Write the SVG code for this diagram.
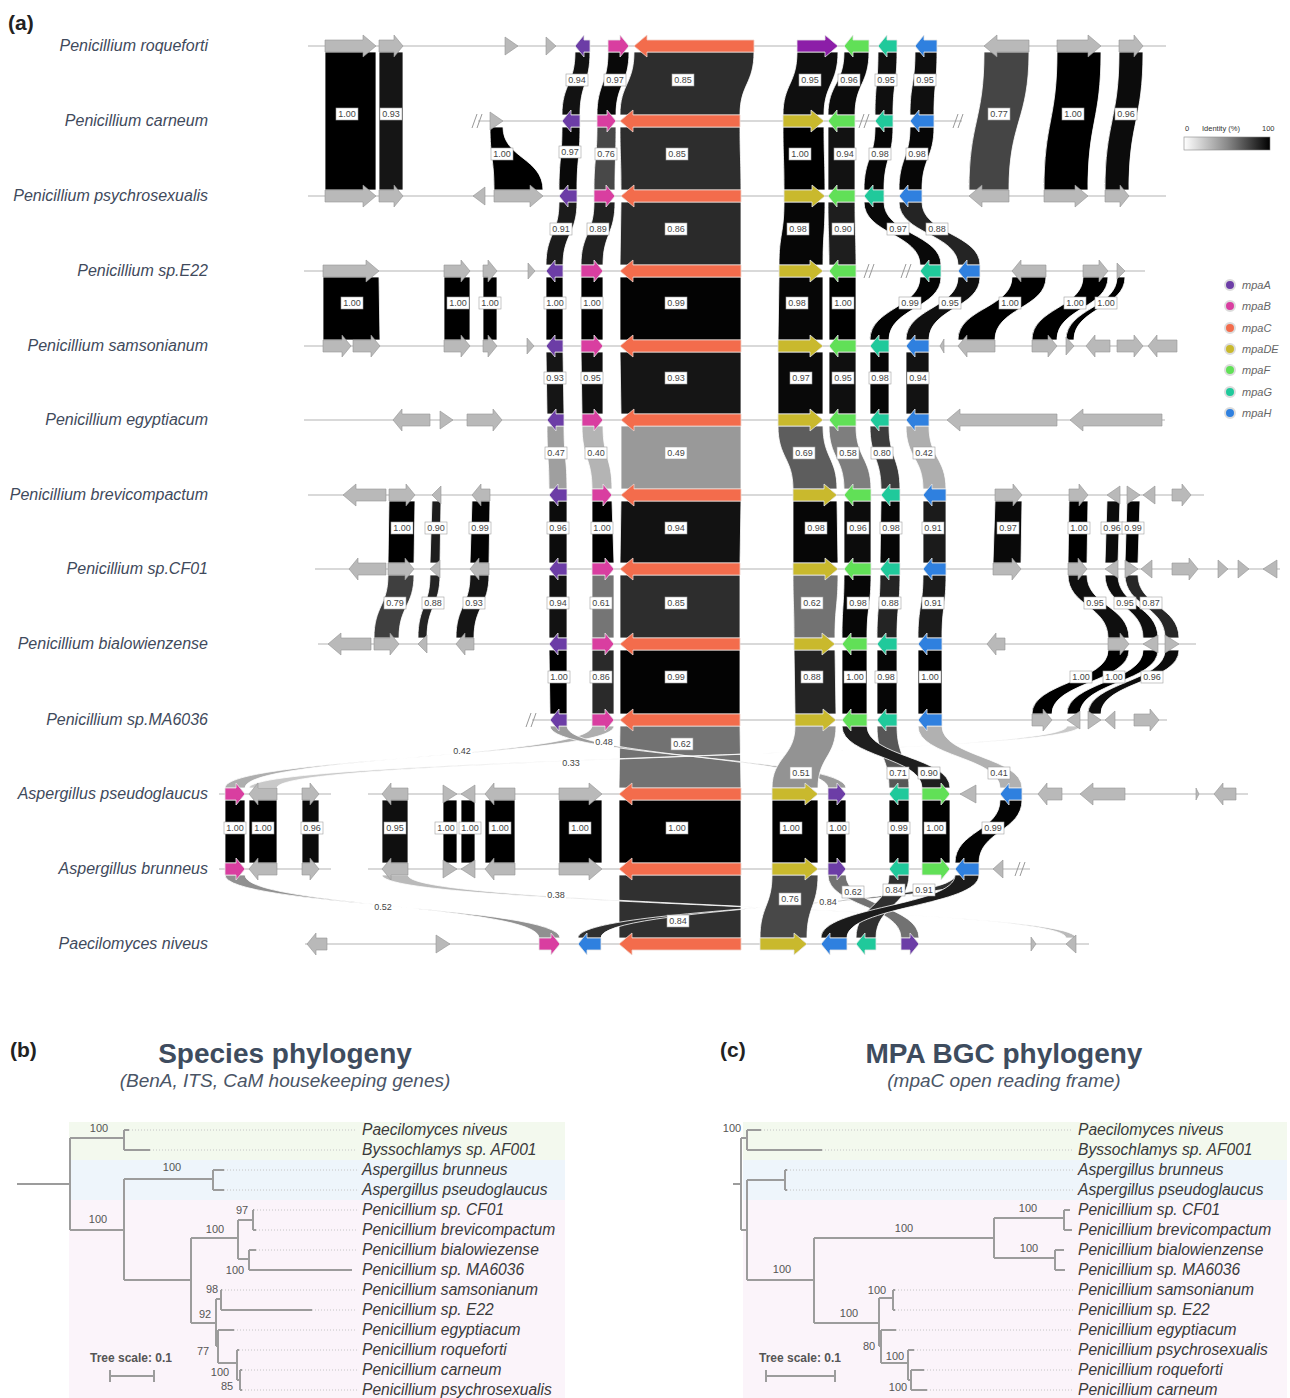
<svg xmlns="http://www.w3.org/2000/svg" width="1290" height="1398" viewBox="0 0 1290 1398">
<style>
text{font-family:"Liberation Sans",Arial,sans-serif}
.trk{stroke:#b3b3b3;stroke-width:1.2;fill:none}
.g{fill:#b9b9b9;stroke:#949494;stroke-width:.6}
.A{fill:#6c3da6;stroke:#e6e6e6;stroke-width:.8}
.B{fill:#d93ea0;stroke:#e6e6e6;stroke-width:.8}
.C{fill:#f36c4c;stroke:#f0d0c8;stroke-width:.8}
.DE{fill:#c9b92d;stroke:#e6e6e6;stroke-width:.8}
.F{fill:#61e057;stroke:#e6e6e6;stroke-width:.8}
.G{fill:#20c99b;stroke:#e6e6e6;stroke-width:.8}
.H{fill:#2f80df;stroke:#e6e6e6;stroke-width:.8}
.X{fill:#8c1ea8;stroke:#e6e6e6;stroke-width:.8}
.rib path{stroke:#ffffff;stroke-width:.8}
.k100{fill:#000}.k99{fill:#030303}.k98{fill:#060606}.k97{fill:#090909}.k96{fill:#0c0c0c}.k95{fill:#0f0f0f}.k94{fill:#121212}.k93{fill:#151515}.k91{fill:#1b1b1b}.k90{fill:#1e1e1e}.k89{fill:#212121}.k88{fill:#242424}.k87{fill:#272727}.k86{fill:#2a2a2a}.k85{fill:#2d2d2d}.k84{fill:#303030}.k80{fill:#3c3c3c}.k79{fill:#3f3f3f}.k77{fill:#454545}.k76{fill:#484848}.k71{fill:#575757}.k69{fill:#5d5d5d}.k62{fill:#727272}.k61{fill:#757575}.k58{fill:#7e7e7e}.k52{fill:#909090}.k51{fill:#939393}.k49{fill:#999999}.k48{fill:#9c9c9c}.k47{fill:#9f9f9f}.k42{fill:#aeaeae}.k41{fill:#b1b1b1}.k40{fill:#b4b4b4}.k38{fill:#bababa}.k33{fill:#c9c9c9}
.lb rect{fill:#fff;stroke:#a0a0a0;stroke-width:.6}
.lb2 rect{fill:#fff;stroke:none}
.lb text,.lb2 text{font-size:9px;fill:#444;text-anchor:middle}
.sp{font-size:16px;font-style:italic;fill:#3f4a5c;text-anchor:end}
.sls{stroke:#999;stroke-width:1;fill:none}
.leg text{font-size:11px;font-style:italic;fill:#666}
.leg circle{stroke:#dcdcdc;stroke-width:2}
.pl{font-size:21px;font-weight:bold;fill:#222}
.ttl{font-size:28px;font-weight:bold;fill:#3e4c5e;text-anchor:middle}
.sub{font-size:19px;font-style:italic;fill:#4a5566;text-anchor:middle}
.tr{stroke:#9c9c9c;stroke-width:2;fill:none}
.dot{stroke:#c4c4c4;stroke-width:1;stroke-dasharray:1 2}
.leaf{font-size:15.6px;font-style:italic;fill:#3a3a3a}
.bs{font-size:11px;fill:#555;text-anchor:middle}
.tsc{font-size:12px;font-weight:bold;fill:#555;text-anchor:middle}
</style>
<defs>
<linearGradient id="idg" x1="0" y1="0" x2="1" y2="0"><stop offset="0" stop-color="#ffffff"/><stop offset="0.5" stop-color="#8a8a8a"/><stop offset="1" stop-color="#000000"/></linearGradient>
<path id="sl" d="M-6,7L-1,-7M-1,7L4,-7" class="sls"/>
</defs>
<rect width="1290" height="1398" fill="#ffffff"/>
<text class="pl" x="8" y="30">(a)</text>

<g id="tracks">
<path class="trk" d="M308,46H1166M478,121H962M308,196H1166M304,271H1145M304,346H1177M304,420H1165M308,495H1204M315,569H1280M318,644H1196M532,720H1167M219,794H331M368,794H1248M219,869H331M368,869H1030M305,944H1089"/>
</g>

<g id="connectors" class="rib">
<path class="k100" d="M325,52H376V190H325Z"/>
<path class="k93" d="M379,52H403V190H379Z"/>
<path class="k77" d="M984,52H1029C1029,121 1009,121 1009,190H969C969,121 984,121 984,52Z"/>
<path class="k100" d="M1057,52H1101C1101,121 1088,121 1088,190H1044C1044,121 1057,121 1057,52Z"/>
<path class="k96" d="M1119,52H1143C1143,121 1129,121 1129,190H1105C1105,121 1119,121 1119,52Z"/>
<path class="k94" d="M575,52H590C590,84 580,84 580,115H562C562,84 575,84 575,52Z"/>
<path class="k97" d="M608,52H629C629,84 616,84 616,115H597C597,84 608,84 608,52Z"/>
<path class="k85" d="M634,52H754C754,84 740,84 740,115H620C620,84 634,84 634,52Z"/>
<path class="k95" d="M797,52H838C838,84 824,84 824,115H783C783,84 797,84 797,52Z"/>
<path class="k96" d="M844,52H869C869,84 855,84 855,115H828C828,84 844,84 844,52Z"/>
<path class="k95" d="M878,52H897C897,84 893,84 893,115H875C875,84 878,84 878,52Z"/>
<path class="k95" d="M915,52H937C937,84 934,84 934,115H910C910,84 915,84 915,52Z"/>
<path class="k100" d="M490,127H503C503,158 543,158 543,190H494C494,158 490,158 490,127Z"/>
<path class="k97" d="M562,127H580C580,158 577,158 577,190H559C559,158 562,158 562,127Z"/>
<path class="k76" d="M597,127H616C616,158 615,158 615,190H594C594,158 597,158 597,127Z"/>
<path class="k85" d="M620,127H740C740,158 741,158 741,190H621C621,158 620,158 620,127Z"/>
<path class="k100" d="M783,127H824C824,158 825,158 825,190H784C784,158 783,158 783,127Z"/>
<path class="k94" d="M828,127H855V190H828Z"/>
<path class="k98" d="M875,127H893C893,158 884,158 884,190H864C864,158 875,158 875,127Z"/>
<path class="k98" d="M910,127H934C934,158 922,158 922,190H899C899,158 910,158 910,127Z"/>
<path class="k91" d="M559,202H577C577,234 563,234 563,265H546C546,234 559,234 559,202Z"/>
<path class="k89" d="M594,202H615C615,234 603,234 603,265H581C581,234 594,234 594,202Z"/>
<path class="k86" d="M621,202H741V265H620Z"/>
<path class="k98" d="M784,202H825C825,234 823,234 823,265H779C779,234 784,234 784,202Z"/>
<path class="k90" d="M828,202H855C855,234 856,234 856,265H829C829,234 828,234 828,202Z"/>
<path class="k97" d="M864,202H884C884,234 941,234 941,265H920C920,234 864,234 864,202Z"/>
<path class="k88" d="M899,202H922C922,234 980,234 980,265H958C958,234 899,234 899,202Z"/>
<path class="k100" d="M323,277H379L380,340H323Z"/>
<path class="k100" d="M444,277H470V340H444Z"/>
<path class="k100" d="M483,277H497V340H483Z"/>
<path class="k100" d="M546,277H563V340H546Z"/>
<path class="k100" d="M581,277H603V340H581Z"/>
<path class="k99" d="M620,277H741V340H620Z"/>
<path class="k98" d="M779,277H823V340H778Z"/>
<path class="k100" d="M829,277H856V340H829Z"/>
<path class="k99" d="M920,277H941C941,308 889,308 889,340H870C870,308 920,308 920,277Z"/>
<path class="k95" d="M958,277H980C980,308 929,308 929,340H906C906,308 958,308 958,277Z"/>
<path class="k100" d="M1012,277H1046C1046,308 995,308 995,340H958C958,308 1012,308 1012,277Z"/>
<path class="k100" d="M1083,277H1108C1108,308 1057,308 1057,340H1032C1032,308 1083,308 1083,277Z"/>
<path class="k100" d="M1117,277H1125C1125,308 1074,308 1074,340H1066C1066,308 1117,308 1117,277Z"/>
<path class="k93" d="M546,352H563L564,414H547Z"/>
<path class="k95" d="M581,352H603V414H582Z"/>
<path class="k93" d="M620,352H741V414H621Z"/>
<path class="k97" d="M778,352H823V414H778Z"/>
<path class="k95" d="M829,352H856V414H829Z"/>
<path class="k98" d="M870,352H889V414H870Z"/>
<path class="k94" d="M906,352H929V414H906Z"/>
<path class="k47" d="M547,426H564C564,458 567,458 567,489H549C549,458 547,458 547,426Z"/>
<path class="k40" d="M582,426H603C603,458 612,458 612,489H592C592,458 582,458 582,426Z"/>
<path class="k49" d="M621,426H741V489H621Z"/>
<path class="k69" d="M778,426H823C823,458 837,458 837,489H793C793,458 778,458 778,426Z"/>
<path class="k58" d="M829,426H856C856,458 871,458 871,489H844C844,458 829,458 829,426Z"/>
<path class="k80" d="M870,426H889C889,458 900,458 900,489H881C881,458 870,458 870,426Z"/>
<path class="k42" d="M906,426H929C929,458 946,458 946,489H923C923,458 906,458 906,426Z"/>
<path class="k100" d="M389,501H415L414,563H388Z"/>
<path class="k90" d="M432,501H441L440,563H430Z"/>
<path class="k99" d="M472,501H490L489,563H470Z"/>
<path class="k96" d="M549,501H567V563H549Z"/>
<path class="k100" d="M592,501H612L614,563H592Z"/>
<path class="k94" d="M621,501H741L740,563H620Z"/>
<path class="k98" d="M793,501H837L838,563H793Z"/>
<path class="k96" d="M844,501H871V563H844Z"/>
<path class="k98" d="M881,501H900V563H880Z"/>
<path class="k91" d="M923,501H946V563H923Z"/>
<path class="k97" d="M995,501H1022L1021,563H993Z"/>
<path class="k100" d="M1069,501H1088L1087,563H1068Z"/>
<path class="k96" d="M1107,501H1120L1118,563H1105Z"/>
<path class="k99" d="M1127,501H1140L1138,563H1125Z"/>
<path class="k79" d="M388,575H414C414,606 399,606 399,638H374C374,606 388,606 388,575Z"/>
<path class="k88" d="M430,575H440C440,606 427,606 427,638H418C418,606 430,606 430,575Z"/>
<path class="k93" d="M470,575H489C489,606 474,606 474,638H456C456,606 470,606 470,575Z"/>
<path class="k94" d="M549,575H567V638H549Z"/>
<path class="k61" d="M592,575H614V638H592Z"/>
<path class="k85" d="M620,575H740V638H620Z"/>
<path class="k62" d="M793,575H838C838,606 835,606 835,638H794C794,606 793,606 793,575Z"/>
<path class="k98" d="M844,575H871C871,606 867,606 867,638H842C842,606 844,606 844,575Z"/>
<path class="k88" d="M880,575H900C900,606 897,606 897,638H877C877,606 880,606 880,575Z"/>
<path class="k91" d="M923,575H946C946,606 942,606 942,638H918C918,606 923,606 923,575Z"/>
<path class="k95" d="M1068,575H1087C1087,606 1129,606 1129,638H1108C1108,606 1068,606 1068,575Z"/>
<path class="k95" d="M1105,575H1118C1118,606 1158,606 1158,638H1143C1143,606 1105,606 1105,575Z"/>
<path class="k87" d="M1125,575H1138C1138,606 1179,606 1179,638H1165C1165,606 1125,606 1125,575Z"/>
<path class="k100" d="M549,650H567V714H550Z"/>
<path class="k86" d="M592,650H614V714H592Z"/>
<path class="k99" d="M620,650H740V714H620Z"/>
<path class="k88" d="M794,650H835L836,714H795Z"/>
<path class="k100" d="M842,650H867V714H842Z"/>
<path class="k98" d="M877,650H897V714H877Z"/>
<path class="k100" d="M918,650H942V714H918Z"/>
<path class="k100" d="M1108,650H1129C1129,682 1052,682 1052,714H1032C1032,682 1108,682 1108,650Z"/>
<path class="k100" d="M1143,650H1158C1158,682 1080,682 1080,714H1067C1067,682 1143,682 1143,650Z"/>
<path class="k96" d="M1165,650H1179C1179,682 1101,682 1101,714H1088C1088,682 1165,682 1165,650Z"/>
<path class="k62" d="M620,726H740L741,788H619Z"/>
<path class="k42" d="M592,726H614C614,757 225,757 225,788H245C245,757 592,757 592,726Z"/>
<path class="k33" d="M1067,726H1080C1080,757 249,757 249,788H277C277,757 1067,757 1067,726Z"/>
<path class="k48" d="M550,726H567C567,757 828,757 828,788H846C846,757 550,757 550,726Z"/>
<path class="k51" d="M795,726H836C836,757 818,757 818,788H772C772,757 795,757 795,726Z"/>
<path class="k41" d="M918,726H942C942,757 1022,757 1022,788H1000C1000,757 918,757 918,726Z"/>
<path class="k71" d="M877,726H897C897,757 909,757 909,788H889C889,757 877,757 877,726Z"/>
<path class="k90" d="M842,726H867C867,757 950,757 950,788H922C922,757 842,757 842,726Z"/>
<path class="k100" d="M225,800H245V863H225Z"/>
<path class="k100" d="M249,800H277V863H249Z"/>
<path class="k96" d="M302,800H319V863H302Z"/>
<path class="k95" d="M382,800H408V863H382Z"/>
<path class="k100" d="M443,800H457V863H443Z"/>
<path class="k100" d="M461,800H475V863H461Z"/>
<path class="k100" d="M485,800H515V863H485Z"/>
<path class="k100" d="M559,800H602V863H559Z"/>
<path class="k100" d="M619,800H741V863H619Z"/>
<path class="k100" d="M772,800H818V863H772Z"/>
<path class="k100" d="M828,800H846V863H828Z"/>
<path class="k99" d="M889,800H909V863H889Z"/>
<path class="k100" d="M922,800H950V863H922Z"/>
<path class="k99" d="M1000,800H1022C1022,831 979,831 979,863H955C955,831 1000,831 1000,800Z"/>
<path class="k84" d="M619,875H741V938H619Z"/>
<path class="k52" d="M225,875H245C245,906 539,906 539,938H560C560,906 225,906 225,875Z"/>
<path class="k38" d="M382,875H408C408,906 1066,906 1066,938H1076C1076,906 382,906 382,875Z"/>
<path class="k84" d="M955,875H979C979,906 578,906 578,938H601C601,906 955,906 955,875Z"/>
<path class="k76" d="M772,875H818C818,906 807,906 807,938H760C760,906 772,906 772,875Z"/>
<path class="k62" d="M828,875H846C846,906 919,906 919,938H901C901,906 828,906 828,875Z"/>
<path class="k84" d="M889,875H909C909,906 876,906 876,938H856C856,906 889,906 889,875Z"/>
<path class="k91" d="M955,875H979C979,906 847,906 847,938H821C821,906 955,906 955,875Z"/>
</g>

<g id="genome-roqueforti">
<text class="sp" x="208" y="51">Penicillium roqueforti</text>
<path class="g" d="M325,40h38v-5l13,11l-13,11v-5h-38z"/>
<path class="g" d="M379,40h15v-5l9,11l-9,11v-5h-15z"/>
<path class="g" d="M505,37l13,9l-13,9z"/>
<path class="g" d="M546,37l10,9l-10,9z"/>
<path class="A" d="M575,46l9,-11v5h6v12h-6v5z"/>
<path class="B" d="M608,40h12v-5l9,11l-9,11v-5h-12z"/>
<path class="C" d="M634,46l13,-11v5h107v12h-107v5z"/>
<path class="X" d="M797,40h28v-5l13,11l-13,11v-5h-28z"/>
<path class="F" d="M844,46l9,-11v5h16v12h-16v5z"/>
<path class="G" d="M878,46l9,-11v5h10v12h-10v5z"/>
<path class="H" d="M915,46l9,-11v5h13v12h-13v5z"/>
<path class="g" d="M984,46l13,-11v5h32v12h-32v5z"/>
<path class="g" d="M1057,40h31v-5l13,11l-13,11v-5h-31z"/>
<path class="g" d="M1119,40h15v-5l9,11l-9,11v-5h-15z"/>
</g>
<g id="genome-carneum">
<text class="sp" x="208" y="126">Penicillium carneum</text>
<use href="#sl" x="478" y="121"/><use href="#sl" x="865" y="121"/><use href="#sl" x="959" y="121"/>
<path class="g" d="M490,112l13,9l-13,9z"/>
<path class="A" d="M562,121l9,-11v5h9v12h-9v5z"/>
<path class="B" d="M597,115h10v-5l9,11l-9,11v-5h-10z"/>
<path class="C" d="M620,121l13,-11v5h107v12h-107v5z"/>
<path class="DE" d="M783,115h28v-5l13,11l-13,11v-5h-28z"/>
<path class="F" d="M828,121l9,-11v5h18v12h-18v5z"/>
<path class="G" d="M875,121l9,-11v5h9v12h-9v5z"/>
<path class="H" d="M910,121l9,-11v5h15v12h-15v5z"/>
</g>
<g id="genome-psychrosexualis">
<text class="sp" x="208" y="201">Penicillium psychrosexualis</text>
<path class="g" d="M325,190h38v-5l13,11l-13,11v-5h-38z"/>
<path class="g" d="M379,190h15v-5l9,11l-9,11v-5h-15z"/>
<path class="g" d="M485,187l-12,9l12,9z"/>
<path class="g" d="M494,190h36v-5l13,11l-13,11v-5h-36z"/>
<path class="A" d="M559,196l9,-11v5h9v12h-9v5z"/>
<path class="B" d="M594,190h12v-5l9,11l-9,11v-5h-12z"/>
<path class="C" d="M621,196l13,-11v5h107v12h-107v5z"/>
<path class="DE" d="M784,190h28v-5l13,11l-13,11v-5h-28z"/>
<path class="F" d="M828,196l9,-11v5h18v12h-18v5z"/>
<path class="G" d="M864,196l9,-11v5h11v12h-11v5z"/>
<path class="H" d="M899,196l9,-11v5h14v12h-14v5z"/>
<path class="g" d="M969,196l13,-11v5h27v12h-27v5z"/>
<path class="g" d="M1044,190h31v-5l13,11l-13,11v-5h-31z"/>
<path class="g" d="M1105,190h15v-5l9,11l-9,11v-5h-15z"/>
</g>
<g id="genome-E22">
<text class="sp" x="208" y="276">Penicillium sp.E22</text>
<path class="g" d="M323,265h43v-5l13,11l-13,11v-5h-43z"/>
<path class="g" d="M444,265h17v-5l9,11l-9,11v-5h-17z"/>
<path class="g" d="M483,265h5v-5l9,11l-9,11v-5h-5z"/>
<path class="g" d="M528,263l7,8l-7,8z"/>
<path class="A" d="M546,271l9,-11v5h8v12h-8v5z"/>
<path class="B" d="M581,265h13v-5l9,11l-9,11v-5h-13z"/>
<path class="C" d="M620,271l13,-11v5h108v12h-108v5z"/>
<path class="DE" d="M779,265h31v-5l13,11l-13,11v-5h-31z"/>
<path class="F" d="M829,271l9,-11v5h18v12h-18v5z"/>
<use href="#sl" x="870" y="271"/><use href="#sl" x="907" y="271"/>
<path class="G" d="M920,271l9,-11v5h12v12h-12v5z"/>
<path class="H" d="M958,271l9,-11v5h13v12h-13v5z"/>
<path class="g" d="M1012,271l9,-11v5h25v12h-25v5z"/>
<path class="g" d="M1083,265h16v-5l9,11l-9,11v-5h-16z"/>
<path class="g" d="M1117,263l8,8l-8,8z"/>
</g>
<g id="genome-samsonianum">
<text class="sp" x="208" y="351">Penicillium samsonianum</text>
<path class="g" d="M323,340h19v-5l9,11l-9,11v-5h-19z"/>
<path class="g" d="M353,340h18v-5l9,11l-9,11v-5h-18z"/>
<path class="g" d="M444,340h17v-5l9,11l-9,11v-5h-17z"/>
<path class="g" d="M483,340h5v-5l9,11l-9,11v-5h-5z"/>
<path class="g" d="M527,338l7,8l-7,8z"/>
<path class="A" d="M546,346l9,-11v5h8v12h-8v5z"/>
<path class="B" d="M581,340h13v-5l9,11l-9,11v-5h-13z"/>
<path class="C" d="M620,346l13,-11v5h108v12h-108v5z"/>
<path class="DE" d="M778,340h32v-5l13,11l-13,11v-5h-32z"/>
<path class="F" d="M829,346l9,-11v5h18v12h-18v5z"/>
<path class="G" d="M870,346l9,-11v5h10v12h-10v5z"/>
<path class="H" d="M906,346l9,-11v5h14v12h-14v5z"/>
<path class="g" d="M944,339l-4,7l4,7z"/>
<path class="g" d="M958,346l9,-11v5h28v12h-28v5z"/>
<path class="g" d="M1032,340h16v-5l9,11l-9,11v-5h-16z"/>
<path class="g" d="M1066,337l8,9l-8,9z"/>
<path class="g" d="M1086,346l9,-11v5h15v12h-15v5z"/>
<path class="g" d="M1117,340h17v-5l9,11l-9,11v-5h-17z"/>
<path class="g" d="M1148,346l9,-11v5h20v12h-20v5z"/>
</g>
<g id="genome-egyptiacum">
<text class="sp" x="208" y="425">Penicillium egyptiacum</text>
<path class="g" d="M393,420l9,-11v5h28v12h-28v5z"/>
<path class="g" d="M440,411l13,9l-13,9z"/>
<path class="g" d="M467,414h26v-5l9,11l-9,11v-5h-26z"/>
<path class="A" d="M547,420l9,-11v5h8v12h-8v5z"/>
<path class="B" d="M582,414h12v-5l9,11l-9,11v-5h-12z"/>
<path class="C" d="M621,420l13,-11v5h107v12h-107v5z"/>
<path class="DE" d="M778,414h32v-5l13,11l-13,11v-5h-32z"/>
<path class="F" d="M829,420l9,-11v5h18v12h-18v5z"/>
<path class="G" d="M870,420l9,-11v5h10v12h-10v5z"/>
<path class="H" d="M906,420l9,-11v5h14v12h-14v5z"/>
<path class="g" d="M947,420l13,-11v5h97v12h-97v5z"/>
<path class="g" d="M1070,420l13,-11v5h79v12h-79v5z"/>
</g>
<g id="genome-brevicompactum">
<text class="sp" x="208" y="500">Penicillium brevicompactum</text>
<path class="g" d="M343,495l13,-11v5h30v12h-30v5z"/>
<path class="g" d="M389,489h17v-5l9,11l-9,11v-5h-17z"/>
<path class="g" d="M441,486l-9,9l9,9z"/>
<path class="g" d="M472,495l9,-11v5h9v12h-9v5z"/>
<path class="A" d="M549,495l9,-11v5h9v12h-9v5z"/>
<path class="B" d="M592,489h11v-5l9,11l-9,11v-5h-11z"/>
<path class="C" d="M621,495l13,-11v5h107v12h-107v5z"/>
<path class="DE" d="M793,489h31v-5l13,11l-13,11v-5h-31z"/>
<path class="F" d="M844,495l9,-11v5h18v12h-18v5z"/>
<path class="G" d="M881,495l9,-11v5h10v12h-10v5z"/>
<path class="H" d="M923,495l9,-11v5h14v12h-14v5z"/>
<path class="g" d="M995,489h18v-5l9,11l-9,11v-5h-18z"/>
<path class="g" d="M1069,489h10v-5l9,11l-9,11v-5h-10z"/>
<path class="g" d="M1120,486l-13,9l13,9z"/>
<path class="g" d="M1127,486l13,9l-13,9z"/>
<path class="g" d="M1155,486l-12,9l12,9z"/>
<path class="g" d="M1172,489h10v-5l9,11l-9,11v-5h-10z"/>
</g>
<g id="genome-CF01">
<text class="sp" x="208" y="574">Penicillium sp.CF01</text>
<path class="g" d="M349,569l9,-11v5h28v12h-28v5z"/>
<path class="g" d="M388,563h17v-5l9,11l-9,11v-5h-17z"/>
<path class="g" d="M440,560l-10,9l10,9z"/>
<path class="g" d="M470,569l9,-11v5h10v12h-10v5z"/>
<path class="A" d="M549,569l9,-11v5h9v12h-9v5z"/>
<path class="B" d="M592,563h13v-5l9,11l-9,11v-5h-13z"/>
<path class="C" d="M620,569l13,-11v5h107v12h-107v5z"/>
<path class="DE" d="M793,563h32v-5l13,11l-13,11v-5h-32z"/>
<path class="F" d="M844,569l9,-11v5h18v12h-18v5z"/>
<path class="G" d="M880,569l9,-11v5h11v12h-11v5z"/>
<path class="H" d="M923,569l9,-11v5h14v12h-14v5z"/>
<path class="g" d="M993,563h19v-5l9,11l-9,11v-5h-19z"/>
<path class="g" d="M1068,563h10v-5l9,11l-9,11v-5h-10z"/>
<path class="g" d="M1118,560l-13,9l13,9z"/>
<path class="g" d="M1125,560l13,9l-13,9z"/>
<path class="g" d="M1152,560l-11,9l11,9z"/>
<path class="g" d="M1172,563h17v-5l9,11l-9,11v-5h-17z"/>
<path class="g" d="M1218,560l10,9l-10,9z"/>
<path class="g" d="M1238,560l11,9l-11,9z"/>
<path class="g" d="M1277,560l-14,9l14,9z"/>
</g>
<g id="genome-bialowienzense">
<text class="sp" x="208" y="649">Penicillium bialowienzense</text>
<path class="g" d="M328,644l13,-11v5h30v12h-30v5z"/>
<path class="g" d="M374,638h16v-5l9,11l-9,11v-5h-16z"/>
<path class="g" d="M427,635l-9,9l9,9z"/>
<path class="g" d="M456,644l9,-11v5h9v12h-9v5z"/>
<path class="A" d="M549,644l9,-11v5h9v12h-9v5z"/>
<path class="B" d="M592,638h13v-5l9,11l-9,11v-5h-13z"/>
<path class="C" d="M620,644l13,-11v5h107v12h-107v5z"/>
<path class="DE" d="M794,638h28v-5l13,11l-13,11v-5h-28z"/>
<path class="F" d="M842,644l9,-11v5h16v12h-16v5z"/>
<path class="G" d="M877,644l9,-11v5h11v12h-11v5z"/>
<path class="H" d="M918,644l9,-11v5h15v12h-15v5z"/>
<path class="g" d="M987,644l9,-11v5h9v12h-9v5z"/>
<path class="g" d="M1108,638h12v-5l9,11l-9,11v-5h-12z"/>
<path class="g" d="M1158,635l-15,9l15,9z"/>
<path class="g" d="M1165,635l14,9l-14,9z"/>
</g>
<g id="genome-MA6036">
<text class="sp" x="208" y="725">Penicillium sp.MA6036</text>
<use href="#sl" x="532" y="720"/>
<path class="A" d="M550,720l9,-11v5h8v12h-8v5z"/>
<path class="B" d="M592,714h13v-5l9,11l-9,11v-5h-13z"/>
<path class="C" d="M620,720l13,-11v5h107v12h-107v5z"/>
<path class="DE" d="M795,714h28v-5l13,11l-13,11v-5h-28z"/>
<path class="F" d="M842,720l9,-11v5h16v12h-16v5z"/>
<path class="G" d="M877,720l9,-11v5h11v12h-11v5z"/>
<path class="H" d="M918,720l9,-11v5h15v12h-15v5z"/>
<path class="g" d="M1032,714h11v-5l9,11l-9,11v-5h-11z"/>
<path class="g" d="M1080,711l-13,9l13,9z"/>
<path class="g" d="M1088,711l13,9l-13,9z"/>
<path class="g" d="M1115,711l-10,9l10,9z"/>
<path class="g" d="M1134,714h16v-5l9,11l-9,11v-5h-16z"/>
</g>
<g id="genome-pseudoglaucus">
<text class="sp" x="208" y="799">Aspergillus pseudoglaucus</text>
<path class="B" d="M225,788h11v-5l9,11l-9,11v-5h-11z"/>
<path class="g" d="M249,794l9,-11v5h19v12h-19v5z"/>
<path class="g" d="M302,788h8v-5l9,11l-9,11v-5h-8z"/>
<path class="g" d="M382,794l9,-11v5h17v12h-17v5z"/>
<path class="g" d="M443,785l14,9l-14,9z"/>
<path class="g" d="M475,785l-14,9l14,9z"/>
<path class="g" d="M485,794l9,-11v5h21v12h-21v5z"/>
<path class="g" d="M559,788h30v-5l13,11l-13,11v-5h-30z"/>
<path class="C" d="M619,794l13,-11v5h109v12h-109v5z"/>
<path class="DE" d="M772,788h33v-5l13,11l-13,11v-5h-33z"/>
<path class="A" d="M828,788h9v-5l9,11l-9,11v-5h-9z"/>
<path class="G" d="M889,794l9,-11v5h11v12h-11v5z"/>
<path class="F" d="M922,788h19v-5l9,11l-9,11v-5h-19z"/>
<path class="g" d="M976,785l-16,9l16,9z"/>
<path class="H" d="M1000,794l9,-11v5h13v12h-13v5z"/>
<path class="g" d="M1038,794l9,-11v5h15v12h-15v5z"/>
<path class="g" d="M1080,794l13,-11v5h32v12h-32v5z"/>
<path class="g" d="M1196,788l3,6l-3,6z"/>
<path class="g" d="M1214,794l9,-11v5h13v12h-13v5z"/>
</g>
<g id="genome-brunneus">
<text class="sp" x="208" y="874">Aspergillus brunneus</text>
<path class="B" d="M225,863h11v-5l9,11l-9,11v-5h-11z"/>
<path class="g" d="M249,869l9,-11v5h19v12h-19v5z"/>
<path class="g" d="M302,863h8v-5l9,11l-9,11v-5h-8z"/>
<path class="g" d="M382,869l9,-11v5h17v12h-17v5z"/>
<path class="g" d="M443,860l14,9l-14,9z"/>
<path class="g" d="M475,860l-14,9l14,9z"/>
<path class="g" d="M485,869l9,-11v5h21v12h-21v5z"/>
<path class="g" d="M559,863h30v-5l13,11l-13,11v-5h-30z"/>
<path class="C" d="M619,869l13,-11v5h109v12h-109v5z"/>
<path class="DE" d="M772,863h33v-5l13,11l-13,11v-5h-33z"/>
<path class="A" d="M828,863h9v-5l9,11l-9,11v-5h-9z"/>
<path class="G" d="M889,869l9,-11v5h11v12h-11v5z"/>
<path class="F" d="M922,863h19v-5l9,11l-9,11v-5h-19z"/>
<path class="H" d="M955,869l9,-11v5h15v12h-15v5z"/>
<path class="g" d="M1003,860l-10,9l10,9z"/>
<use href="#sl" x="1021" y="869"/>
</g>
<g id="genome-niveus">
<text class="sp" x="208" y="949">Paecilomyces niveus</text>
<path class="g" d="M307,944l9,-11v5h11v12h-11v5z"/>
<path class="g" d="M436,935l14,9l-14,9z"/>
<path class="B" d="M539,938h12v-5l9,11l-9,11v-5h-12z"/>
<path class="H" d="M578,944l9,-11v5h14v12h-14v5z"/>
<path class="C" d="M619,944l13,-11v5h109v12h-109v5z"/>
<path class="DE" d="M760,938h34v-5l13,11l-13,11v-5h-34z"/>
<path class="H" d="M821,944l9,-11v5h17v12h-17v5z"/>
<path class="G" d="M856,944l9,-11v5h11v12h-11v5z"/>
<path class="A" d="M901,938h9v-5l9,11l-9,11v-5h-9z"/>
<path class="g" d="M1031,937l5,7l-5,7z"/>
<path class="g" d="M1076,935l-10,9l10,9z"/>
</g>

<g id="link-labels">
<g class="lb" transform="translate(577 80)"><rect x="-11" y="-6" width="22" height="12"/><text y="3">0.94</text></g>
<g class="lb" transform="translate(615 80)"><rect x="-11" y="-6" width="22" height="12"/><text y="3">0.97</text></g>
<g class="lb" transform="translate(683 80)"><rect x="-11" y="-6" width="22" height="12"/><text y="3">0.85</text></g>
<g class="lb" transform="translate(810 80)"><rect x="-11" y="-6" width="22" height="12"/><text y="3">0.95</text></g>
<g class="lb" transform="translate(849 80)"><rect x="-11" y="-6" width="22" height="12"/><text y="3">0.96</text></g>
<g class="lb" transform="translate(886 80)"><rect x="-11" y="-6" width="22" height="12"/><text y="3">0.95</text></g>
<g class="lb" transform="translate(925 80)"><rect x="-11" y="-6" width="22" height="12"/><text y="3">0.95</text></g>
<g class="lb" transform="translate(347 114)"><rect x="-11" y="-6" width="22" height="12"/><text y="3">1.00</text></g>
<g class="lb" transform="translate(391 114)"><rect x="-11" y="-6" width="22" height="12"/><text y="3">0.93</text></g>
<g class="lb" transform="translate(999 114)"><rect x="-11" y="-6" width="22" height="12"/><text y="3">0.77</text></g>
<g class="lb" transform="translate(1073 114)"><rect x="-11" y="-6" width="22" height="12"/><text y="3">1.00</text></g>
<g class="lb" transform="translate(1126 114)"><rect x="-11" y="-6" width="22" height="12"/><text y="3">0.96</text></g>
<g class="lb" transform="translate(502 154)"><rect x="-11" y="-6" width="22" height="12"/><text y="3">1.00</text></g>
<g class="lb" transform="translate(570 152)"><rect x="-11" y="-6" width="22" height="12"/><text y="3">0.97</text></g>
<g class="lb" transform="translate(606 154)"><rect x="-11" y="-6" width="22" height="12"/><text y="3">0.76</text></g>
<g class="lb" transform="translate(677 154)"><rect x="-11" y="-6" width="22" height="12"/><text y="3">0.85</text></g>
<g class="lb" transform="translate(800 154)"><rect x="-11" y="-6" width="22" height="12"/><text y="3">1.00</text></g>
<g class="lb" transform="translate(845 154)"><rect x="-11" y="-6" width="22" height="12"/><text y="3">0.94</text></g>
<g class="lb" transform="translate(880 154)"><rect x="-11" y="-6" width="22" height="12"/><text y="3">0.98</text></g>
<g class="lb" transform="translate(917 154)"><rect x="-11" y="-6" width="22" height="12"/><text y="3">0.98</text></g>
<g class="lb" transform="translate(561 229)"><rect x="-11" y="-6" width="22" height="12"/><text y="3">0.91</text></g>
<g class="lb" transform="translate(598 229)"><rect x="-11" y="-6" width="22" height="12"/><text y="3">0.89</text></g>
<g class="lb" transform="translate(676 229)"><rect x="-11" y="-6" width="22" height="12"/><text y="3">0.86</text></g>
<g class="lb" transform="translate(798 229)"><rect x="-11" y="-6" width="22" height="12"/><text y="3">0.98</text></g>
<g class="lb" transform="translate(843 229)"><rect x="-11" y="-6" width="22" height="12"/><text y="3">0.90</text></g>
<g class="lb" transform="translate(898 229)"><rect x="-11" y="-6" width="22" height="12"/><text y="3">0.97</text></g>
<g class="lb" transform="translate(937 229)"><rect x="-11" y="-6" width="22" height="12"/><text y="3">0.88</text></g>
<g class="lb" transform="translate(352 303)"><rect x="-11" y="-6" width="22" height="12"/><text y="3">1.00</text></g>
<g class="lb" transform="translate(458 303)"><rect x="-11" y="-6" width="22" height="12"/><text y="3">1.00</text></g>
<g class="lb" transform="translate(490 303)"><rect x="-11" y="-6" width="22" height="12"/><text y="3">1.00</text></g>
<g class="lb" transform="translate(555 303)"><rect x="-11" y="-6" width="22" height="12"/><text y="3">1.00</text></g>
<g class="lb" transform="translate(592 303)"><rect x="-11" y="-6" width="22" height="12"/><text y="3">1.00</text></g>
<g class="lb" transform="translate(676 303)"><rect x="-11" y="-6" width="22" height="12"/><text y="3">0.99</text></g>
<g class="lb" transform="translate(797 303)"><rect x="-11" y="-6" width="22" height="12"/><text y="3">0.98</text></g>
<g class="lb" transform="translate(843 303)"><rect x="-11" y="-6" width="22" height="12"/><text y="3">1.00</text></g>
<g class="lb" transform="translate(910 303)"><rect x="-11" y="-6" width="22" height="12"/><text y="3">0.99</text></g>
<g class="lb" transform="translate(950 303)"><rect x="-11" y="-6" width="22" height="12"/><text y="3">0.95</text></g>
<g class="lb" transform="translate(1010 303)"><rect x="-11" y="-6" width="22" height="12"/><text y="3">1.00</text></g>
<g class="lb" transform="translate(1075 303)"><rect x="-11" y="-6" width="22" height="12"/><text y="3">1.00</text></g>
<g class="lb" transform="translate(1106 303)"><rect x="-11" y="-6" width="22" height="12"/><text y="3">1.00</text></g>
<g class="lb" transform="translate(555 378)"><rect x="-11" y="-6" width="22" height="12"/><text y="3">0.93</text></g>
<g class="lb" transform="translate(592 378)"><rect x="-11" y="-6" width="22" height="12"/><text y="3">0.95</text></g>
<g class="lb" transform="translate(676 378)"><rect x="-11" y="-6" width="22" height="12"/><text y="3">0.93</text></g>
<g class="lb" transform="translate(801 378)"><rect x="-11" y="-6" width="22" height="12"/><text y="3">0.97</text></g>
<g class="lb" transform="translate(843 378)"><rect x="-11" y="-6" width="22" height="12"/><text y="3">0.95</text></g>
<g class="lb" transform="translate(880 378)"><rect x="-11" y="-6" width="22" height="12"/><text y="3">0.98</text></g>
<g class="lb" transform="translate(918 378)"><rect x="-11" y="-6" width="22" height="12"/><text y="3">0.94</text></g>
<g class="lb" transform="translate(556 453)"><rect x="-11" y="-6" width="22" height="12"/><text y="3">0.47</text></g>
<g class="lb" transform="translate(596 453)"><rect x="-11" y="-6" width="22" height="12"/><text y="3">0.40</text></g>
<g class="lb" transform="translate(676 453)"><rect x="-11" y="-6" width="22" height="12"/><text y="3">0.49</text></g>
<g class="lb" transform="translate(804 453)"><rect x="-11" y="-6" width="22" height="12"/><text y="3">0.69</text></g>
<g class="lb" transform="translate(848 453)"><rect x="-11" y="-6" width="22" height="12"/><text y="3">0.58</text></g>
<g class="lb" transform="translate(882 453)"><rect x="-11" y="-6" width="22" height="12"/><text y="3">0.80</text></g>
<g class="lb" transform="translate(924 453)"><rect x="-11" y="-6" width="22" height="12"/><text y="3">0.42</text></g>
<g class="lb" transform="translate(402 528)"><rect x="-11" y="-6" width="22" height="12"/><text y="3">1.00</text></g>
<g class="lb" transform="translate(436 528)"><rect x="-11" y="-6" width="22" height="12"/><text y="3">0.90</text></g>
<g class="lb" transform="translate(480 528)"><rect x="-11" y="-6" width="22" height="12"/><text y="3">0.99</text></g>
<g class="lb" transform="translate(558 528)"><rect x="-11" y="-6" width="22" height="12"/><text y="3">0.96</text></g>
<g class="lb" transform="translate(602 528)"><rect x="-11" y="-6" width="22" height="12"/><text y="3">1.00</text></g>
<g class="lb" transform="translate(676 528)"><rect x="-11" y="-6" width="22" height="12"/><text y="3">0.94</text></g>
<g class="lb" transform="translate(816 528)"><rect x="-11" y="-6" width="22" height="12"/><text y="3">0.98</text></g>
<g class="lb" transform="translate(858 528)"><rect x="-11" y="-6" width="22" height="12"/><text y="3">0.96</text></g>
<g class="lb" transform="translate(891 528)"><rect x="-11" y="-6" width="22" height="12"/><text y="3">0.98</text></g>
<g class="lb" transform="translate(933 528)"><rect x="-11" y="-6" width="22" height="12"/><text y="3">0.91</text></g>
<g class="lb" transform="translate(1008 528)"><rect x="-11" y="-6" width="22" height="12"/><text y="3">0.97</text></g>
<g class="lb" transform="translate(1079 528)"><rect x="-11" y="-6" width="22" height="12"/><text y="3">1.00</text></g>
<g class="lb" transform="translate(1112 528)"><rect x="-11" y="-6" width="22" height="12"/><text y="3">0.96</text></g>
<g class="lb" transform="translate(1133 528)"><rect x="-11" y="-6" width="22" height="12"/><text y="3">0.99</text></g>
<g class="lb" transform="translate(395 603)"><rect x="-11" y="-6" width="22" height="12"/><text y="3">0.79</text></g>
<g class="lb" transform="translate(433 603)"><rect x="-11" y="-6" width="22" height="12"/><text y="3">0.88</text></g>
<g class="lb" transform="translate(474 603)"><rect x="-11" y="-6" width="22" height="12"/><text y="3">0.93</text></g>
<g class="lb" transform="translate(558 603)"><rect x="-11" y="-6" width="22" height="12"/><text y="3">0.94</text></g>
<g class="lb" transform="translate(601 603)"><rect x="-11" y="-6" width="22" height="12"/><text y="3">0.61</text></g>
<g class="lb" transform="translate(676 603)"><rect x="-11" y="-6" width="22" height="12"/><text y="3">0.85</text></g>
<g class="lb" transform="translate(812 603)"><rect x="-11" y="-6" width="22" height="12"/><text y="3">0.62</text></g>
<g class="lb" transform="translate(858 603)"><rect x="-11" y="-6" width="22" height="12"/><text y="3">0.98</text></g>
<g class="lb" transform="translate(890 603)"><rect x="-11" y="-6" width="22" height="12"/><text y="3">0.88</text></g>
<g class="lb" transform="translate(933 603)"><rect x="-11" y="-6" width="22" height="12"/><text y="3">0.91</text></g>
<g class="lb" transform="translate(1095 603)"><rect x="-11" y="-6" width="22" height="12"/><text y="3">0.95</text></g>
<g class="lb" transform="translate(1125 603)"><rect x="-11" y="-6" width="22" height="12"/><text y="3">0.95</text></g>
<g class="lb" transform="translate(1151 603)"><rect x="-11" y="-6" width="22" height="12"/><text y="3">0.87</text></g>
<g class="lb" transform="translate(559 677)"><rect x="-11" y="-6" width="22" height="12"/><text y="3">1.00</text></g>
<g class="lb" transform="translate(601 677)"><rect x="-11" y="-6" width="22" height="12"/><text y="3">0.86</text></g>
<g class="lb" transform="translate(676 677)"><rect x="-11" y="-6" width="22" height="12"/><text y="3">0.99</text></g>
<g class="lb" transform="translate(812 677)"><rect x="-11" y="-6" width="22" height="12"/><text y="3">0.88</text></g>
<g class="lb" transform="translate(855 677)"><rect x="-11" y="-6" width="22" height="12"/><text y="3">1.00</text></g>
<g class="lb" transform="translate(886 677)"><rect x="-11" y="-6" width="22" height="12"/><text y="3">0.98</text></g>
<g class="lb" transform="translate(930 677)"><rect x="-11" y="-6" width="22" height="12"/><text y="3">1.00</text></g>
<g class="lb" transform="translate(1081 677)"><rect x="-11" y="-6" width="22" height="12"/><text y="3">1.00</text></g>
<g class="lb" transform="translate(1114 677)"><rect x="-11" y="-6" width="22" height="12"/><text y="3">1.00</text></g>
<g class="lb" transform="translate(1152 677)"><rect x="-11" y="-6" width="22" height="12"/><text y="3">0.96</text></g>
<g class="lb" transform="translate(682 744)"><rect x="-11" y="-6" width="22" height="12"/><text y="3">0.62</text></g>
<g class="lb2" transform="translate(604 742)"><rect x="-10" y="-5" width="20" height="10"/><text y="3">0.48</text></g>
<g class="lb2" transform="translate(462 751)"><rect x="-10" y="-5" width="20" height="10"/><text y="3">0.42</text></g>
<g class="lb2" transform="translate(571 763)"><rect x="-10" y="-5" width="20" height="10"/><text y="3">0.33</text></g>
<g class="lb" transform="translate(801 773)"><rect x="-11" y="-6" width="22" height="12"/><text y="3">0.51</text></g>
<g class="lb" transform="translate(898 773)"><rect x="-11" y="-6" width="22" height="12"/><text y="3">0.71</text></g>
<g class="lb" transform="translate(929 773)"><rect x="-11" y="-6" width="22" height="12"/><text y="3">0.90</text></g>
<g class="lb" transform="translate(999 773)"><rect x="-11" y="-6" width="22" height="12"/><text y="3">0.41</text></g>
<g class="lb" transform="translate(235 828)"><rect x="-11" y="-6" width="22" height="12"/><text y="3">1.00</text></g>
<g class="lb" transform="translate(263 828)"><rect x="-11" y="-6" width="22" height="12"/><text y="3">1.00</text></g>
<g class="lb" transform="translate(312 828)"><rect x="-11" y="-6" width="22" height="12"/><text y="3">0.96</text></g>
<g class="lb" transform="translate(395 828)"><rect x="-11" y="-6" width="22" height="12"/><text y="3">0.95</text></g>
<g class="lb" transform="translate(446 828)"><rect x="-11" y="-6" width="22" height="12"/><text y="3">1.00</text></g>
<g class="lb" transform="translate(470 828)"><rect x="-11" y="-6" width="22" height="12"/><text y="3">1.00</text></g>
<g class="lb" transform="translate(500 828)"><rect x="-11" y="-6" width="22" height="12"/><text y="3">1.00</text></g>
<g class="lb" transform="translate(580 828)"><rect x="-11" y="-6" width="22" height="12"/><text y="3">1.00</text></g>
<g class="lb" transform="translate(677 828)"><rect x="-11" y="-6" width="22" height="12"/><text y="3">1.00</text></g>
<g class="lb" transform="translate(791 828)"><rect x="-11" y="-6" width="22" height="12"/><text y="3">1.00</text></g>
<g class="lb" transform="translate(838 828)"><rect x="-11" y="-6" width="22" height="12"/><text y="3">1.00</text></g>
<g class="lb" transform="translate(899 828)"><rect x="-11" y="-6" width="22" height="12"/><text y="3">0.99</text></g>
<g class="lb" transform="translate(935 828)"><rect x="-11" y="-6" width="22" height="12"/><text y="3">1.00</text></g>
<g class="lb" transform="translate(993 828)"><rect x="-11" y="-6" width="22" height="12"/><text y="3">0.99</text></g>
<g class="lb2" transform="translate(383 907)"><rect x="-10" y="-5" width="20" height="10"/><text y="3">0.52</text></g>
<g class="lb2" transform="translate(556 895)"><rect x="-10" y="-5" width="20" height="10"/><text y="3">0.38</text></g>
<g class="lb" transform="translate(678 921)"><rect x="-11" y="-6" width="22" height="12"/><text y="3">0.84</text></g>
<g class="lb" transform="translate(790 899)"><rect x="-11" y="-6" width="22" height="12"/><text y="3">0.76</text></g>
<g class="lb2" transform="translate(828 902)"><rect x="-10" y="-5" width="20" height="10"/><text y="3">0.84</text></g>
<g class="lb" transform="translate(853 892)"><rect x="-11" y="-6" width="22" height="12"/><text y="3">0.62</text></g>
<g class="lb" transform="translate(894 890)"><rect x="-11" y="-6" width="22" height="12"/><text y="3">0.84</text></g>
<g class="lb" transform="translate(924 890)"><rect x="-11" y="-6" width="22" height="12"/><text y="3">0.91</text></g>
</g>

<g id="identity-scale">
<text x="1185" y="131" font-size="7.5" fill="#333">0</text>
<text x="1202" y="131" font-size="7.5" fill="#333">Identity (%)</text>
<text x="1262" y="131" font-size="7.5" fill="#333">100</text>
<rect x="1184" y="137" width="86" height="13" fill="url(#idg)" stroke="#888" stroke-width=".6"/>
</g>
<g id="legend" class="leg">
<circle cx="1230" cy="285" r="5" fill="#6c3da6"/><text x="1242" y="289">mpaA</text>
<circle cx="1230" cy="306" r="5" fill="#d93ea0"/><text x="1242" y="310">mpaB</text>
<circle cx="1230" cy="328" r="5" fill="#f36c4c"/><text x="1242" y="332">mpaC</text>
<circle cx="1230" cy="349" r="5" fill="#c9b92d"/><text x="1242" y="353">mpaDE</text>
<circle cx="1230" cy="370" r="5" fill="#61e057"/><text x="1242" y="374">mpaF</text>
<circle cx="1230" cy="392" r="5" fill="#20c99b"/><text x="1242" y="396">mpaG</text>
<circle cx="1230" cy="413" r="5" fill="#2f80df"/><text x="1242" y="417">mpaH</text>
</g>

<g id="panel-b">
<text class="pl" x="10" y="1057">(b)</text>
<text class="ttl" x="285" y="1063">Species phylogeny</text>
<text class="sub" x="285" y="1087">(BenA, ITS, CaM housekeeping genes)</text>
<rect x="69" y="1122" width="496" height="38" fill="#f3f9ee"/>
<rect x="69" y="1160" width="496" height="40" fill="#eef5fb"/>
<rect x="69" y="1200" width="496" height="198" fill="#fbf4fa"/>
<g id="tree-b-dots">
<path class="dot" d="M129,1130H357M150,1150H357M224,1170H357M224,1190H357M254,1210H357M256,1230H357M256,1250H357M222,1290H357M312,1310H357M234,1330H357M239,1350H357M242,1370H357M242,1390H357"/>
</g>
<g id="tree-b-branches">
<path class="tr" d="M17,1184H70M70,1138V1230M70,1138H124M124,1130V1150M124,1130H129M124,1150H150M70,1230H124M124,1179V1280M124,1179H213M213,1170V1190M213,1170H224M213,1190H224M124,1280H191M191,1238V1323M191,1238H238M238,1220V1259M238,1220H253M253,1210V1230M253,1210H254M253,1230H256M238,1259H249M249,1250V1270M249,1250H256M249,1270H352M191,1323H216M216,1299V1346M216,1299H221M221,1290V1310M221,1290H222M221,1310H312M216,1346H218M218,1330V1363M218,1330H234M218,1363H237M237,1350V1380M237,1350H239M237,1380H240M240,1370V1390M240,1370H242M240,1390H242"/>
</g>
<g id="tree-b-support" class="bs">
<text x="99" y="1132">100</text><text x="98" y="1223">100</text><text x="172" y="1171">100</text>
<text x="242" y="1214">97</text><text x="215" y="1233">100</text><text x="235" y="1274">100</text>
<text x="212" y="1293">98</text><text x="205" y="1318">92</text><text x="203" y="1355">77</text>
<text x="220" y="1376">100</text><text x="227" y="1390">85</text>
</g>
<g id="tree-b-leaves" class="leaf">
<text x="362" y="1135">Paecilomyces niveus</text>
<text x="362" y="1155">Byssochlamys sp. AF001</text>
<text x="362" y="1175">Aspergillus brunneus</text>
<text x="362" y="1195">Aspergillus pseudoglaucus</text>
<text x="362" y="1215">Penicillium sp. CF01</text>
<text x="362" y="1235">Penicillium brevicompactum</text>
<text x="362" y="1255">Penicillium bialowiezense</text>
<text x="362" y="1275">Penicillium sp. MA6036</text>
<text x="362" y="1295">Penicillium samsonianum</text>
<text x="362" y="1315">Penicillium sp. E22</text>
<text x="362" y="1335">Penicillium egyptiacum</text>
<text x="362" y="1355">Penicillium roqueforti</text>
<text x="362" y="1375">Penicillium carneum</text>
<text x="362" y="1395">Penicillium psychrosexualis</text>
</g>
<g id="tree-b-scale">
<text class="tsc" x="131" y="1362">Tree scale: 0.1</text>
<path class="tr" d="M110,1376H154M110,1370V1382M154,1370V1382"/>
</g>
</g>

<g id="panel-c">
<text class="pl" x="720" y="1057">(c)</text>
<text class="ttl" x="1004" y="1063">MPA BGC phylogeny</text>
<text class="sub" x="1004" y="1087">(mpaC open reading frame)</text>
<rect x="743" y="1122" width="544" height="38" fill="#f3f9ee"/>
<rect x="743" y="1160" width="544" height="40" fill="#eef5fb"/>
<rect x="743" y="1200" width="544" height="198" fill="#fbf4fa"/>
<g id="tree-c-dots">
<path class="dot" d="M761,1130H1073M822,1150H1073M787,1170H1073M787,1190H1073M895,1290H1073M895,1310H1073M896,1330H1073M914,1350H1073M924,1370H1073M927,1390H1073"/>
</g>
<g id="tree-c-branches">
<path class="tr" d="M733,1184H741M741,1138V1230M741,1138H747M747,1130V1150M747,1130H761M747,1150H822M741,1230H747M747,1180V1280M747,1180H785M785,1170V1190M785,1170H787M785,1190H787M747,1280H814M814,1238V1323M814,1238H994M994,1218V1258M994,1218H1064M1064,1210V1230M1064,1210H1070M1064,1230H1072M994,1258H1055M1055,1250V1270M1055,1250H1064M1055,1270H1065M814,1323H879M879,1298V1346M879,1298H893M893,1290V1310M893,1290H895M893,1310H895M879,1346H881M881,1330V1363M881,1330H896M881,1363H908M908,1350V1380M908,1350H914M908,1380H911M911,1370V1390M911,1370H924M911,1390H927"/>
</g>
<g id="tree-c-support" class="bs">
<text x="732" y="1132">100</text><text x="782" y="1273">100</text><text x="904" y="1232">100</text>
<text x="1028" y="1212">100</text><text x="1029" y="1252">100</text><text x="849" y="1317">100</text>
<text x="877" y="1294">100</text><text x="869" y="1350">80</text><text x="895" y="1360">100</text>
<text x="898" y="1391">100</text>
</g>
<g id="tree-c-leaves" class="leaf">
<text x="1078" y="1135">Paecilomyces niveus</text>
<text x="1078" y="1155">Byssochlamys sp. AF001</text>
<text x="1078" y="1175">Aspergillus brunneus</text>
<text x="1078" y="1195">Aspergillus pseudoglaucus</text>
<text x="1078" y="1215">Penicillium sp. CF01</text>
<text x="1078" y="1235">Penicillium brevicompactum</text>
<text x="1078" y="1255">Penicillium bialowienzense</text>
<text x="1078" y="1275">Penicillium sp. MA6036</text>
<text x="1078" y="1295">Penicillium samsonianum</text>
<text x="1078" y="1315">Penicillium sp. E22</text>
<text x="1078" y="1335">Penicillium egyptiacum</text>
<text x="1078" y="1355">Penicillium psychrosexualis</text>
<text x="1078" y="1375">Penicillium roqueforti</text>
<text x="1078" y="1395">Penicillium carneum</text>
</g>
<g id="tree-c-scale">
<text class="tsc" x="800" y="1362">Tree scale: 0.1</text>
<path class="tr" d="M766,1376H835M766,1370V1382M835,1370V1382"/>
</g>
</g>
</svg>
